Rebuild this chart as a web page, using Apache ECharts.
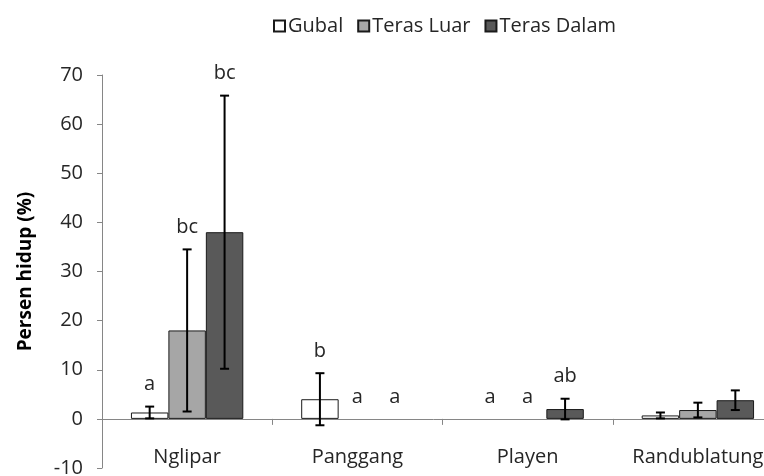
<!DOCTYPE html>
<html>
<head>
<meta charset="utf-8">
<script src="https://cdn.jsdelivr.net/npm/echarts@6/dist/echarts.min.js"></script>
<style>
  html, body { margin: 0; padding: 0; background: #fff; }
  #chart { width: 764px; height: 476px; }
</style>
</head>
<body>
<div id="chart"></div>
<script>
// Survival percentage per location and wood section, with standard deviations
const categories = ['Nglipar', 'Panggang', 'Playen', 'Randublatung'];
const seriesNames = ['Gubal', 'Teras Luar', 'Teras Dalam'];

const gubal = [1.3, 4.0, 0, 0.7];
const gubalErr = [1.2, 5.3, 0, 0.6];
const terasLuar = [18.0, 0, 0, 1.8];
const terasLuarErr = [16.5, 0, 0, 1.5];
const terasDalam = [38.0, 0, 2.0, 3.8];
const terasDalamErr = [27.8, 0, 2.1, 2.0];

// Significance letters (Duncan test)
const gubalLetters = ['a', 'b', 'a', ''];
const terasLuarLetters = ['bc', 'a', 'a', ''];
const terasDalamLetters = ['bc', 'a', 'ab', ''];

const yTicks = { min: -10, max: 70, interval: 10 };

const FONT = '"Open Sans", "Noto Sans", sans-serif';
const TEXT = '#262626';
const AXIS = '#868686';
const BAR_FRAC = 0.22; // bar width as a fraction of the category band

const groups = [
  { name: seriesNames[0], values: gubal, errs: gubalErr, letters: gubalLetters, color: '#ffffff' },
  { name: seriesNames[1], values: terasLuar, errs: terasLuarErr, letters: terasLuarLetters, color: '#a6a6a6' },
  { name: seriesNames[2], values: terasDalam, errs: terasDalamErr, letters: terasDalamLetters, color: '#595959' }
];

const series = [];
groups.forEach((g) => {
  series.push({
    name: g.name,
    type: 'bar',
    barWidth: (BAR_FRAC * 100) + '%',
    barGap: '0%',
    itemStyle: { color: g.color, borderColor: '#1a1a1a', borderWidth: 1 },
    data: g.values.map(v => (v === 0 ? '-' : v)),
    z: 2
  });
});

// Error bars and letters, positioned from the same category/value axes
groups.forEach((g, gi) => {
  series.push({
    type: 'custom',
    silent: true,
    z: 5,
    data: categories.map((c, i) => [i, g.values[i], g.errs[i]]),
    renderItem: function (params, api) {
      const idx = api.value(0);
      const val = api.value(1);
      const err = api.value(2);
      const letter = g.letters[idx];
      const band = api.size([1, 0])[0];
      const bw = band * BAR_FRAC;
      const base = api.coord([idx, val]);
      const x = base[0] + (gi - 1) * bw;
      const children = [];
      let topY = base[1];
      if (err > 0) {
        const hi = api.coord([idx, val + err])[1];
        const lo = api.coord([idx, val - err])[1];
        topY = hi;
        const cap = 4.5;
        const ls = { stroke: '#000', lineWidth: 2 };
        children.push(
          { type: 'line', shape: { x1: x, y1: hi, x2: x, y2: lo }, style: ls },
          { type: 'line', shape: { x1: x - cap, y1: hi, x2: x + cap, y2: hi }, style: ls },
          { type: 'line', shape: { x1: x - cap, y1: lo, x2: x + cap, y2: lo }, style: ls }
        );
      }
      if (letter) {
        children.push({
          type: 'text',
          style: {
            x: x, y: topY - 22, text: letter,
            fill: TEXT, font: '20px ' + FONT,
            textAlign: 'center', textVerticalAlign: 'middle'
          }
        });
      }
      return { type: 'group', children: children };
    }
  });
});

const chart = echarts.init(document.getElementById('chart'), null, { renderer: 'canvas' });
chart.setOption({
  animation: false,
  backgroundColor: '#ffffff',
  textStyle: { fontFamily: FONT },
  legend: {
    data: seriesNames,
    top: 11,
    left: 268,
    icon: 'rect',
    itemWidth: 11,
    itemHeight: 11,
    itemGap: 14,
    textStyle: { fontSize: 20, color: TEXT, fontFamily: FONT, padding: [0, 0, 0, -2] }
  },
  grid: { left: 102, top: 75, bottom: 8, right: -19, containLabel: false, outerBoundsMode: 'none' },
  xAxis: {
    type: 'category',
    data: categories,
    axisLine: { onZero: true, lineStyle: { color: AXIS, width: 1 } },
    axisTick: { show: true, length: 6, lineStyle: { color: AXIS } },
    axisLabel: { color: TEXT, fontSize: 20, fontFamily: FONT, margin: -21, interval: 0, hideOverlap: false },
    splitLine: { show: false }
  },
  yAxis: {
    type: 'value',
    min: yTicks.min,
    max: yTicks.max,
    interval: yTicks.interval,
    name: 'Persen hidup (%)',
    nameLocation: 'middle',
    nameGap: 67,
    nameTextStyle: { color: '#000', fontSize: 19, fontWeight: 'bold', fontFamily: FONT },
    axisLine: { show: true, onZero: false, lineStyle: { color: AXIS, width: 1 } },
    axisTick: { show: true, length: 5, lineStyle: { color: AXIS } },
    axisLabel: { color: TEXT, fontSize: 20, fontFamily: FONT, margin: 19 },
    splitLine: { show: false }
  },
  series: series
});
</script>
</body>
</html>
